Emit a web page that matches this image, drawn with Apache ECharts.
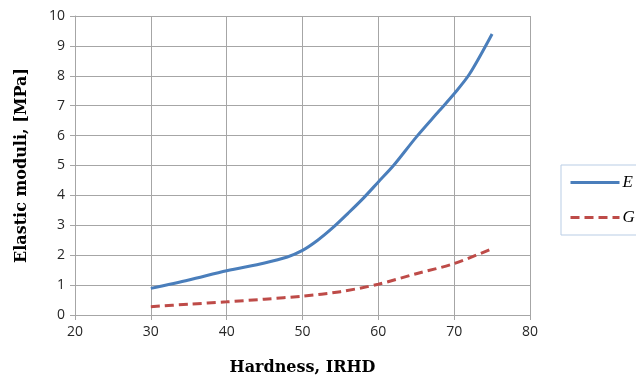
<!DOCTYPE html>
<html>
<head>
<meta charset="utf-8">
<script src="https://cdn.jsdelivr.net/npm/echarts@6/dist/echarts.min.js"></script>
<style>
  html, body { margin: 0; padding: 0; background: #fff; }
  #chart { width: 636px; height: 381px; }
</style>
</head>
<body>
<div id="chart"></div>
<script>
// Hardness (IRHD) sample points for each modulus curve
const hardnessE = [30, 35, 40, 45, 48, 50, 52, 54, 56, 58, 60, 62, 65, 68, 70, 72, 75];
const modulusE  = [0.89, 1.17, 1.48, 1.74, 1.94, 2.16, 2.5, 2.92, 3.4, 3.9, 4.45, 5.0, 5.95, 6.82, 7.4, 8.05, 9.4];

const hardnessG = [30, 35, 40, 45, 50, 55, 60, 65, 70, 75];
const modulusG  = [0.28, 0.36, 0.44, 0.53, 0.63, 0.78, 1.03, 1.38, 1.72, 2.22];

const seriesNames = ['E', 'G'];

const pairs = (xs, ys) => xs.map((x, i) => [x, ys[i]]);

const chart = echarts.init(document.getElementById('chart'), null, { renderer: 'canvas' });

const gridColor = '#a6a6a6';
const tickFont = { fontFamily: 'Open Sans', fontSize: 14, color: '#262626' };
const titleFont = { fontFamily: 'DejaVu Serif', fontWeight: 'bold', fontSize: 16, color: '#000' };

chart.setOption({
  animation: false,
  backgroundColor: '#ffffff',
  grid: { left: 75, right: 106, top: 16, bottom: 66, containLabel: false },
  xAxis: {
    type: 'value',
    min: 20, max: 80, interval: 10,
    name: 'Hardness, IRHD',
    nameLocation: 'middle',
    nameGap: 45,
    nameTextStyle: titleFont,
    axisLine: { show: true, lineStyle: { color: gridColor, width: 1 } },
    axisTick: { show: true, inside: false, length: 5, lineStyle: { color: gridColor } },
    axisLabel: Object.assign({ margin: 10 }, tickFont),
    splitLine: { show: true, lineStyle: { color: gridColor, width: 1 } }
  },
  yAxis: {
    type: 'value',
    min: 0, max: 10, interval: 1,
    name: 'Elastic moduli, [MPa]',
    nameLocation: 'middle',
    nameGap: 45,
    nameTextStyle: titleFont,
    axisLine: { show: true, lineStyle: { color: gridColor, width: 1 } },
    axisTick: { show: true, inside: false, length: 5, lineStyle: { color: gridColor } },
    axisLabel: Object.assign({ margin: 10 }, tickFont),
    splitLine: { show: true, lineStyle: { color: gridColor, width: 1 } }
  },
  legend: {
    orient: 'vertical',
    left: 561,
    top: 165,
    padding: [9, 40, 9, 8],
    itemWidth: 49,
    itemHeight: 14,
    itemGap: 18,
    borderColor: '#b9cde5',
    borderWidth: 1,
    backgroundColor: '#fff',
    itemStyle: { opacity: 0 },
    lineStyle: { width: 3 },
    textStyle: { fontFamily: 'Liberation Serif', fontStyle: 'italic', fontSize: 17, color: '#000', padding: [0, 0, 0, -2] },
    data: seriesNames
  },
  series: [
    {
      name: seriesNames[0],
      type: 'line',
      data: pairs(hardnessE, modulusE),
      smooth: 0.3,
      showSymbol: false,
      symbol: 'none',
      lineStyle: { color: '#4a7ebb', width: 3 },
      itemStyle: { color: '#4a7ebb' }
    },
    {
      name: seriesNames[1],
      type: 'line',
      data: pairs(hardnessG, modulusG),
      smooth: 0.3,
      showSymbol: false,
      symbol: 'none',
      lineStyle: { color: '#be4b48', width: 3, type: [9, 5] },
      itemStyle: { color: '#be4b48' }
    }
  ]
});
</script>
</body>
</html>
